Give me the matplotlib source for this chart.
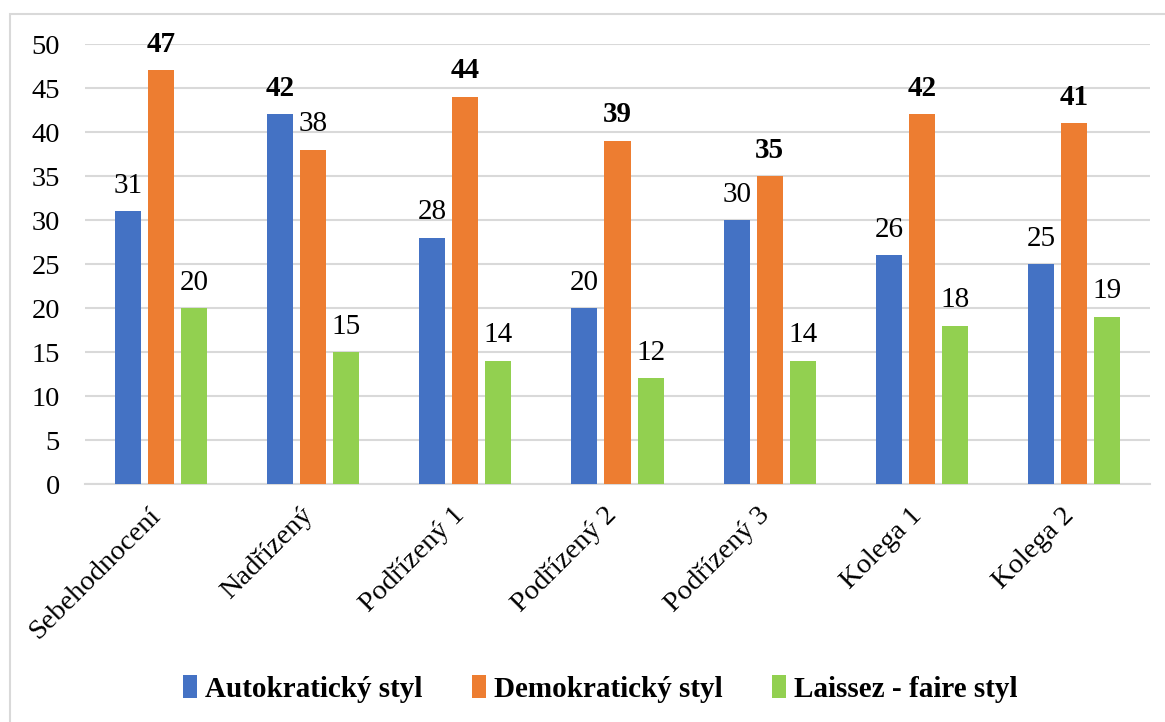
import numpy as np
import matplotlib.pyplot as plt
import matplotlib.transforms as mtrans
from matplotlib.patches import Rectangle

# data
kategorie = ['Sebehodnocení', 'Nadřízený', 'Podřízený 1', 'Podřízený 2',
             'Podřízený 3', 'Kolega 1', 'Kolega 2']
autokraticky = [31, 42, 28, 20, 30, 26, 25]
demokraticky = [47, 38, 44, 39, 35, 42, 41]
laissez = [20, 15, 14, 12, 14, 18, 19]
serie_nazvy = ['Autokratický styl', 'Demokratický styl', 'Laissez - faire styl']
barvy = ['#4472c4', '#ed7d31', '#92d050']
y_ticky = [0, 5, 10, 15, 20, 25, 30, 35, 40, 45, 50]

plt.rcParams['font.family'] = ['Liberation Serif', 'DejaVu Serif']

fig = plt.figure(figsize=(11.65, 7.22), dpi=100)
ax = fig.add_axes([85/1165, 1-484/722, (1150-85)/1165, 440/722])

# ramecek (jen horni a leva hrana viditelna)
fig.patches.append(Rectangle((10/1165, -0.5), 2, 1.5-14/722, transform=fig.transFigure,
                             fill=False, edgecolor='#d9d9d9', linewidth=1.5))

x = np.arange(len(kategorie))
sirka = 0.171
krok = 0.217
serie = [autokraticky, demokraticky, laissez]
maxima = [max(v) for v in zip(*serie)]

for i, (hodnoty, barva, nazev) in enumerate(zip(serie, barvy, serie_nazvy)):
    pos = x + (i-1)*krok
    ax.bar(pos, hodnoty, width=sirka, color=barva, label=nazev, zorder=3)
    for p, h, m in zip(pos, hodnoty, maxima):
        ax.annotate(str(h), (p, h), xytext=(0, 9), textcoords='offset points',
                    ha='center', va='bottom', fontsize=21,
                    fontweight='bold' if h == m else 'normal')

ax.set_ylim(0, 50)
ax.set_xlim(-0.5, len(kategorie)-0.5)
ax.set_yticks(y_ticky)
ax.tick_params(axis='y', length=0, labelsize=20.5, pad=18)
ax.tick_params(axis='x', length=0, labelsize=20.5, pad=20)
ax.set_xticks(x)
ax.set_xticklabels(kategorie, rotation=45, ha='right', va='center',
                   rotation_mode='anchor')
posun = mtrans.ScaledTranslation(-0.04, 0, fig.dpi_scale_trans)
for t in ax.get_xticklabels():
    t.set_transform(t.get_transform() + posun)
ax.grid(axis='y', color='#d9d9d9', linewidth=1.5, zorder=0)
for s in ['top', 'right', 'left']:
    ax.spines[s].set_visible(False)
ax.spines['bottom'].set_color('#d9d9d9')
ax.spines['bottom'].set_linewidth(1.5)

leg = fig.legend(loc='center', bbox_to_anchor=(600/1165, 1-689/722), ncol=3,
                 frameon=False, prop={'weight': 'bold', 'size': 21},
                 handlelength=0.5, handleheight=0.8, handletextpad=0.25,
                 columnspacing=1.7)

fig.savefig('out.png', dpi=100)
